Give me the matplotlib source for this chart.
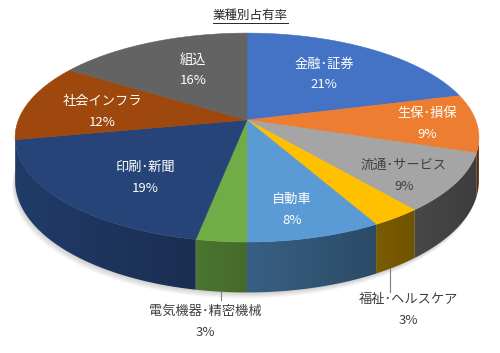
import numpy as np
import matplotlib
matplotlib.use('Agg')
import matplotlib.pyplot as plt
from matplotlib.patches import Polygon
from matplotlib.colors import to_rgb

plt.rcParams['font.family'] = ['Noto Sans CJK JP', 'DejaVu Sans']

# データ
title = '業種別占有率'
labels = ['金融･証券', '生保･損保', '流通･サービス', '福祉･ヘルスケア', '自動車',
          '電気機器･精密機械', '印刷･新聞', '社会インフラ', '組込']
shares = [21, 9, 9, 3, 8, 3, 19, 12, 16]
colors = ['#4472C4', '#ED7D31', '#A5A5A5', '#FFC000', '#5B9BD5',
          '#70AD47', '#264478', '#9E480E', '#636363']

# ラベル位置 (ピクセル座標) と文字色
label_pos = [(324, 74), (427, 124), (404, 175), (408, 309), (292, 209),
             (205, 321), (145, 177), (102, 111), (193, 70)]
label_col = ['white', 'white', '#404040', '#404040', 'white',
             '#404040', 'white', 'white', 'white']
# 引き出し線 (福祉, 電気)
leaders = {3: ((390, 268), (390, 292)), 5: ((221, 292), (221, 300))}

# 3D円グラフの形状 (ピクセル座標)
CX, CY = 247, 120
R, H, K, D = 228.6, 0.444, 0.168, 42


def project(phi, z=0.0):
    X = np.sin(phi)
    Y = np.cos(phi)
    s = 1.0 / (1.0 + K * Y)
    return CX + R * X * s, CY - R * H * Y * s + D * z * s


fig = plt.figure(figsize=(5.0, 3.53), dpi=100)
ax = fig.add_axes([0, 0, 1, 1])
ax.axis('off')

total = float(sum(shares))
bounds = np.concatenate([[0], np.cumsum(shares)]) / total * 2 * np.pi

# 影
full = np.linspace(0, 2 * np.pi, 361)
for i in range(5):
    sx, sy = project(full, z=1.0)
    off = 1.2 * (i + 1)
    ax.add_patch(Polygon(np.column_stack([sx - off * 0.5, sy + off]),
                         closed=True, fc='black', ec='none', alpha=0.035, zorder=1))

# 側面 (手前側のみ、横方向グラデーション)
vis0, vis1 = np.arccos(-K), 2 * np.pi - np.arccos(-K)
xpix = np.arange(500) + 0.5
Xn = np.clip((xpix - CX) / R, -1, 1)
shade = 0.62 - 0.25 * Xn
for k in range(len(shares)):
    a0, a1 = max(bounds[k], vis0), min(bounds[k + 1], vis1)
    if a1 <= a0:
        continue
    phis = np.linspace(a0, a1, max(int(np.degrees(a1 - a0) * 2), 2))
    xt, yt = project(phis)
    xb, yb = project(phis[::-1], 1.0)
    poly = Polygon(np.column_stack([np.r_[xt, xb], np.r_[yt, yb]]),
                   closed=True, fc='none', ec='none', zorder=2)
    ax.add_patch(poly)
    base = np.array(to_rgb(colors[k]))
    img = np.clip(shade[None, :, None] * base[None, None, :], 0, 1)
    im = ax.imshow(img, extent=(0, 500, 353, 0), aspect='auto',
                   interpolation='bilinear', zorder=2)
    im.set_clip_path(poly)

# 上面
for k in range(len(shares)):
    a0, a1 = bounds[k], bounds[k + 1]
    phis = np.linspace(a0, a1, max(int(np.degrees(a1 - a0) * 2), 2))
    xs, ys = project(phis)
    pts = [(CX, CY)] + list(zip(xs, ys))
    ax.add_patch(Polygon(pts, closed=True, fc=colors[k], ec=colors[k],
                         lw=0.4, zorder=3))

# ラベル
for k, lab in enumerate(labels):
    x, y = label_pos[k]
    ax.text(x, y - 10, lab, ha='center', va='center', fontsize=9.5,
            color=label_col[k], zorder=5)
    ax.text(x, y + 11, f'{shares[k]}%', ha='center', va='center',
            fontsize=9.5, color=label_col[k], zorder=5)
for k, (p, q) in leaders.items():
    ax.plot([p[0], q[0]], [p[1], q[1]], color='#7f7f7f', lw=0.8, zorder=4)

ax.set_xlim(0, 500)
ax.set_ylim(353, 0)

# タイトル (下線付き)
t = ax.text(250, 15, title, ha='center', va='center', fontsize=9,
            color='#262626', zorder=5)
fig.canvas.draw()
bb = t.get_window_extent().transformed(ax.transData.inverted())
ax.plot([bb.x0, bb.x1], [22.5, 22.5], color='#262626', lw=0.7, zorder=5)

fig.savefig('out.png', dpi=100)
